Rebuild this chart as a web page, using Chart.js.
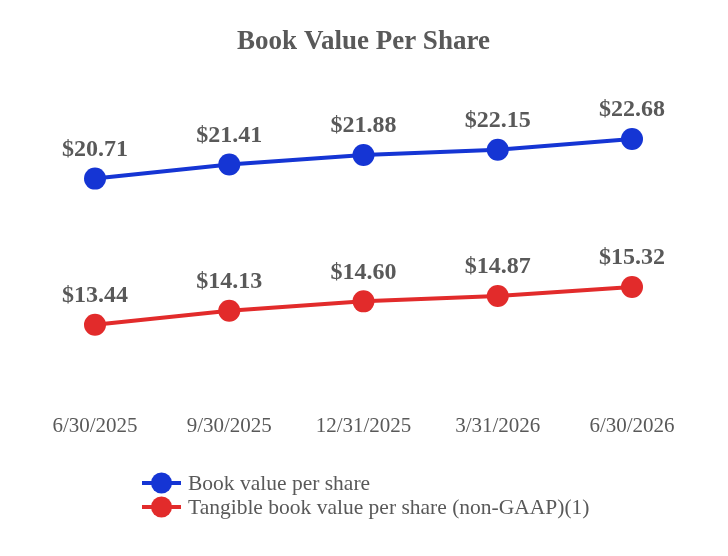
<!DOCTYPE html>
<html><head><meta charset="utf-8">
<script src="https://cdn.jsdelivr.net/npm/chart.js@4.4.0/dist/chart.umd.min.js"></script>
<style>html,body{margin:0;padding:0;background:#fff;}#wrap{width:728px;height:556px;position:relative;}</style>
</head><body><div id="wrap"><canvas id="c" width="728" height="556"></canvas></div>
<script>
const categories = ["6/30/2025","9/30/2025","12/31/2025","3/31/2026","6/30/2026"];
const bookValue = [20.71, 21.41, 21.88, 22.15, 22.68];
const tangibleBookValue = [13.44, 14.13, 14.60, 14.87, 15.32];
const seriesNames = ["Book value per share","Tangible book value per share (non-GAAP)(1)"];
const chartTitle = "Book Value Per Share";

const BLUE = '#1535d4', RED = '#e22b2b', GRAY = '#595959';
const SERIF = '"Liberation Serif","DejaVu Serif",serif';

const labelPlugin = {
  id: 'valueLabels',
  afterDatasetsDraw(chart) {
    const ctx = chart.ctx;
    ctx.save();
    ctx.font = 'bold 24px ' + SERIF;
    ctx.fillStyle = GRAY;
    ctx.textAlign = 'center';
    ctx.textBaseline = 'middle';
    chart.data.datasets.forEach((ds, i) => {
      const meta = chart.getDatasetMeta(i);
      meta.data.forEach((pt, j) => {
        ctx.fillText('$' + ds.data[j].toFixed(2), pt.x, pt.y - 29);
      });
    });
    ctx.restore();
  }
};

const legendPlugin = {
  id: 'customLegend',
  afterDraw(chart) {
    const ctx = chart.ctx;
    ctx.save();
    ctx.font = '21.5px ' + SERIF;
    ctx.textBaseline = 'middle';
    chart.data.datasets.forEach((ds, i) => {
      const y = 483 + i * 24;
      ctx.strokeStyle = ds.borderColor;
      ctx.lineWidth = 4;
      ctx.beginPath(); ctx.moveTo(142, y); ctx.lineTo(181, y); ctx.stroke();
      ctx.fillStyle = ds.backgroundColor;
      ctx.beginPath(); ctx.arc(161.5, y, 10.5, 0, Math.PI * 2); ctx.fill();
      ctx.fillStyle = GRAY;
      ctx.fillText(ds.label, 188, y + 1);
    });
    ctx.restore();
  }
};

new Chart(document.getElementById('c'), {
  type: 'line',
  data: {
    labels: categories,
    datasets: [
      { label: seriesNames[0], data: bookValue, borderColor: BLUE, backgroundColor: BLUE, borderWidth: 4, pointRadius: 11, pointHoverRadius: 11, pointBorderWidth: 0, tension: 0 },
      { label: seriesNames[1], data: tangibleBookValue, borderColor: RED, backgroundColor: RED, borderWidth: 4, pointRadius: 11, pointHoverRadius: 11, pointBorderWidth: 0, tension: 0 }
    ]
  },
  options: {
    responsive: false,
    animation: false,
    devicePixelRatio: 1,
    layout: { padding: { left: 95, right: 96, top: 0, bottom: 97 } },
    plugins: {
      legend: { display: false },
      tooltip: { enabled: false },
      title: { display: true, text: chartTitle, color: GRAY, font: { family: SERIF, size: 27, weight: 'bold' }, padding: { top: 26, bottom: 34 } }
    },
    scales: {
      x: {
        offset: false,
        grid: { display: false, drawTicks: false },
        border: { display: false },
        ticks: { color: GRAY, font: { family: SERIF, size: 21 }, padding: 20, maxRotation: 0, autoSkip: false }
      },
      y: { display: false, min: 10, max: 25 }
    }
  },
  plugins: [labelPlugin, legendPlugin]
});
</script></body></html>
